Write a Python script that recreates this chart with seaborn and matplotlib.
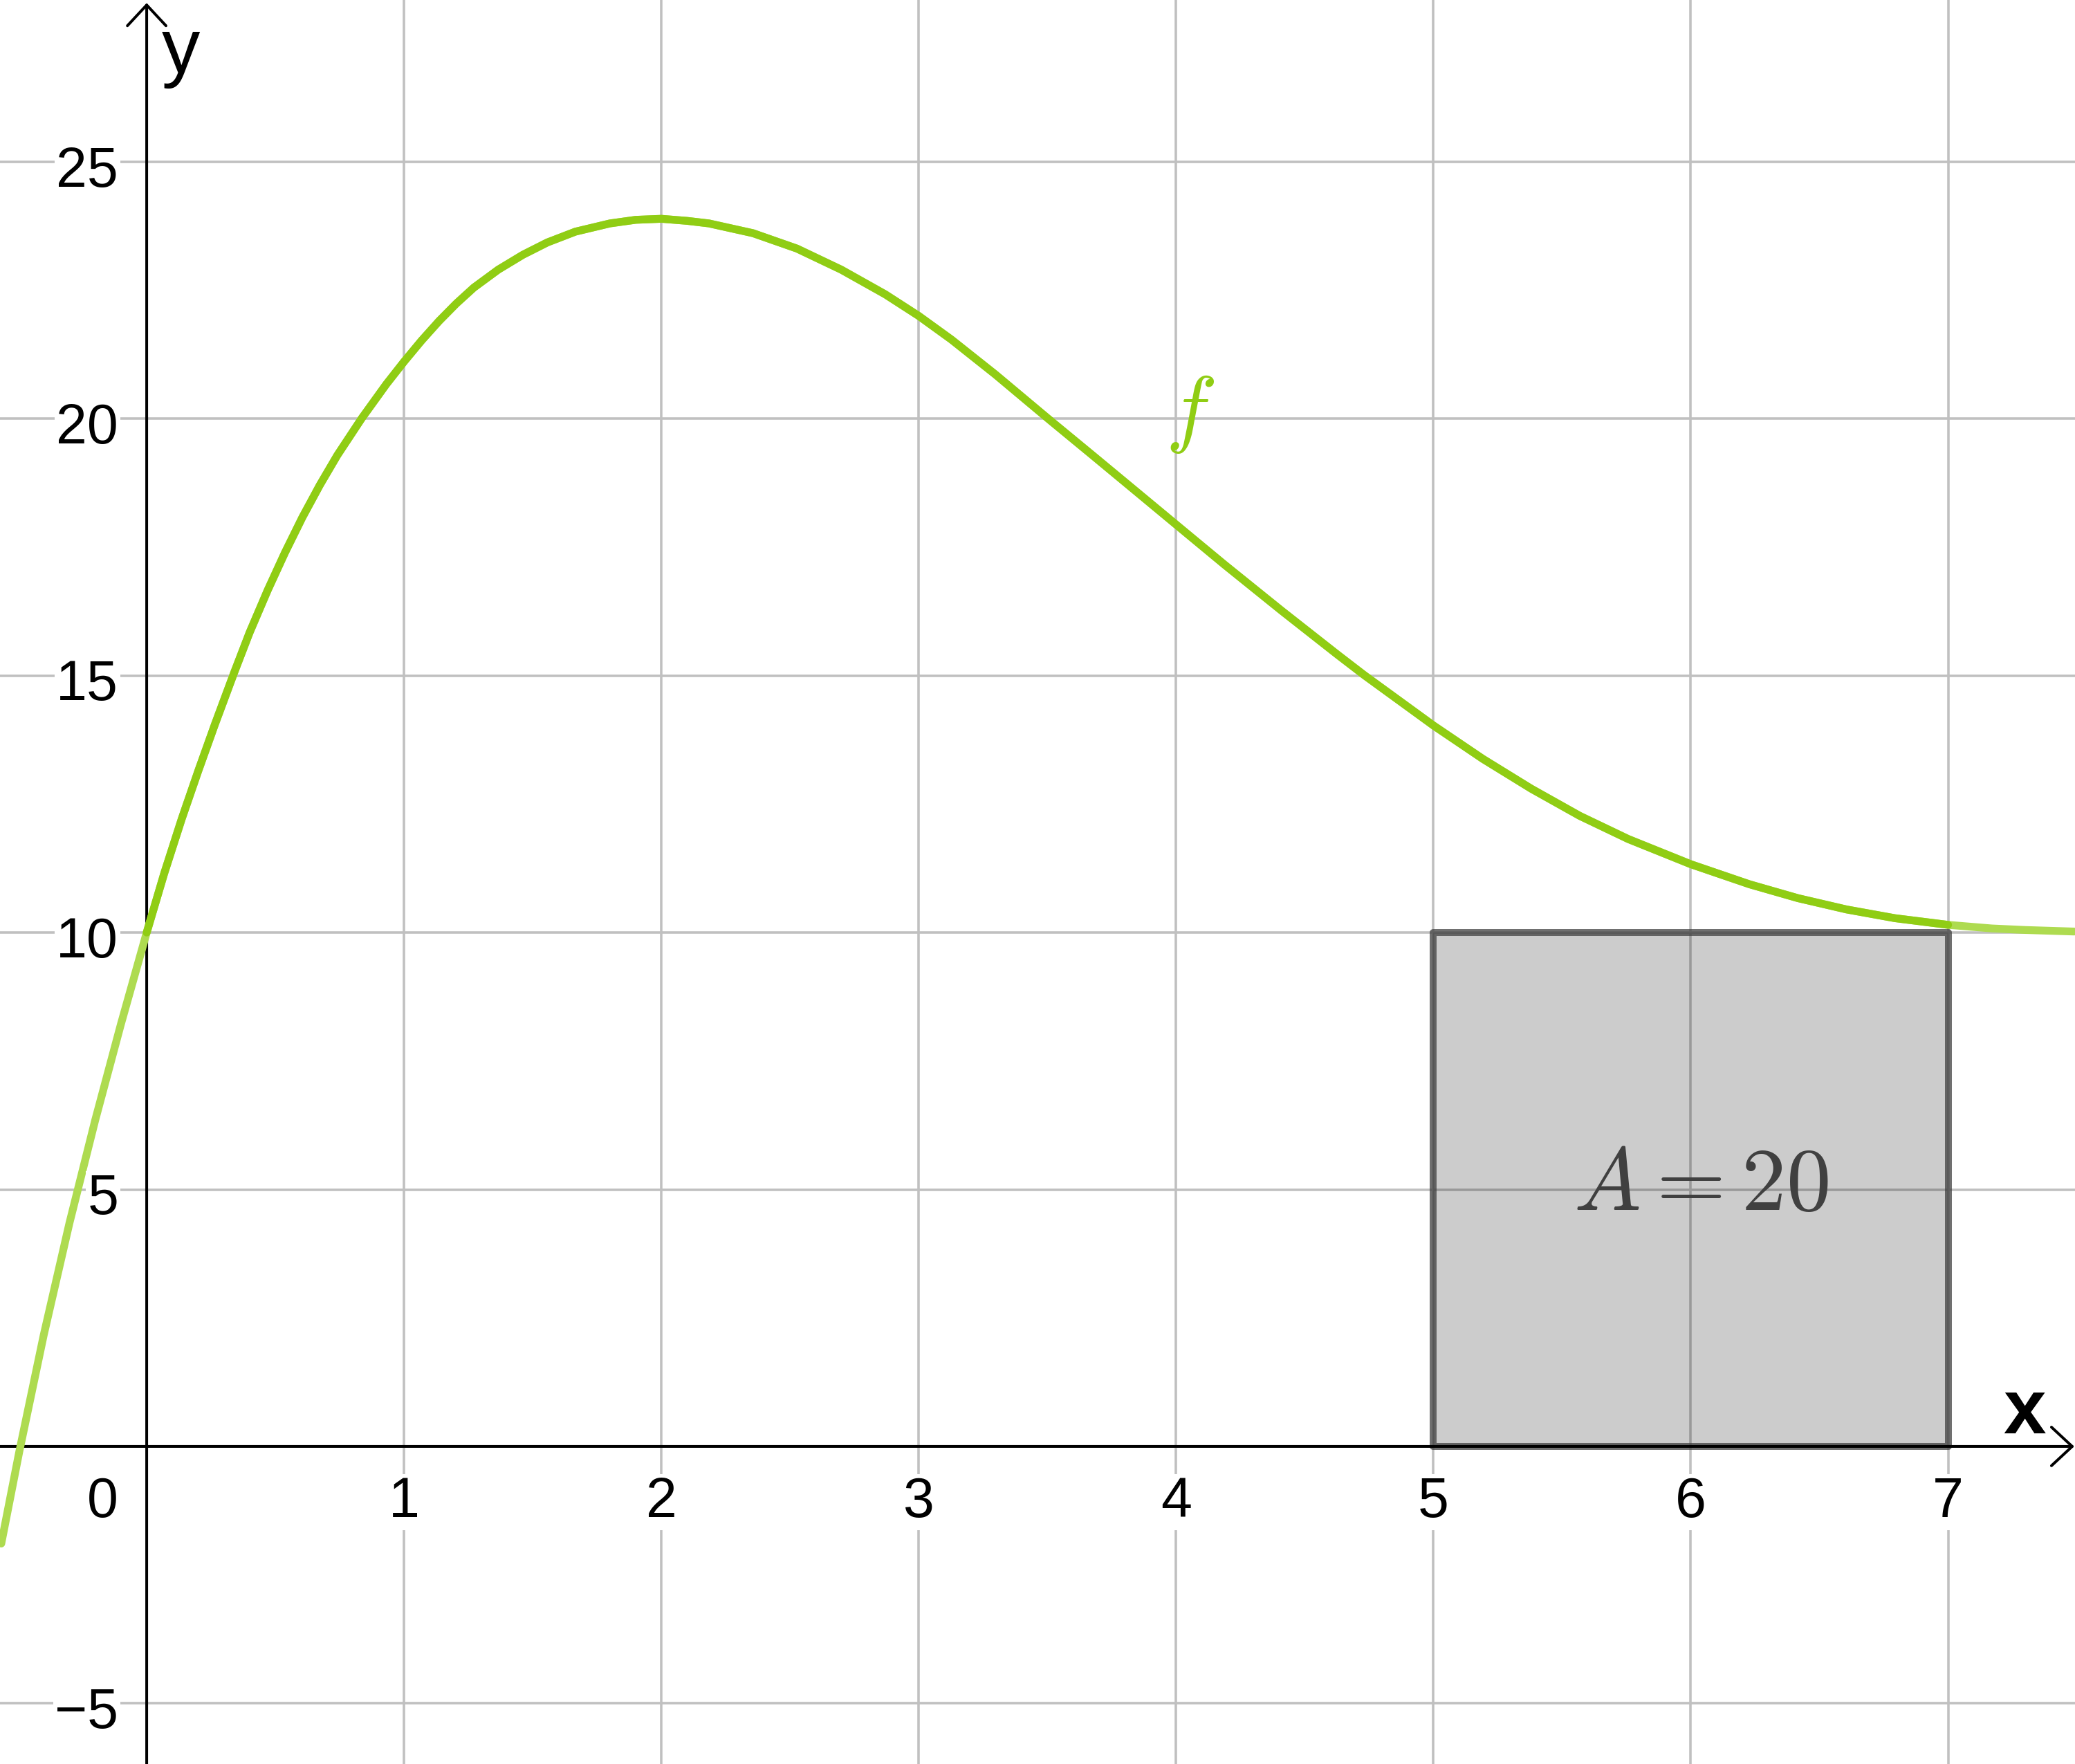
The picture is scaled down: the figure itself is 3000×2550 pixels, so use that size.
import matplotlib
matplotlib.use("Agg")
import matplotlib.pyplot as plt
import seaborn as sns
import numpy as np

# curve f, points
x_vals = [-0.565, -0.495, -0.4, -0.3, -0.2, -0.1, 0, 0.068, 0.136, 0.2, 0.265,
          0.34, 0.4, 0.47, 0.537, 0.605, 0.673, 0.741, 0.836, 0.931, 1.0, 1.068,
          1.136, 1.203, 1.271, 1.366, 1.462, 1.557, 1.666, 1.8, 1.9, 2.0, 2.1,
          2.185, 2.356, 2.527, 2.699, 2.87, 3.0, 3.127, 3.298, 3.503, 3.675,
          3.846, 4.0, 4.188, 4.411, 4.627, 4.731, 5.0, 5.192, 5.38, 5.569, 5.757,
          6.0, 6.228, 6.416, 6.605, 6.793, 7.0, 7.17, 7.3, 7.49]
y_vals = [-1.89, -0.1, 2.17, 4.35, 6.35, 8.22, 10.0, 11.15, 12.21, 13.14, 14.05,
          15.06, 15.84, 16.66, 17.39, 18.08, 18.71, 19.29, 20.01, 20.67, 21.11,
          21.52, 21.9, 22.24, 22.55, 22.9, 23.19, 23.43, 23.64, 23.8, 23.87,
          23.89, 23.85, 23.8, 23.61, 23.31, 22.9, 22.42, 22.0, 21.54, 20.86,
          20.0, 19.29, 18.58, 17.94, 17.16, 16.26, 15.41, 15.01, 14.03, 13.38,
          12.8, 12.27, 11.82, 11.33, 10.94, 10.67, 10.45, 10.28, 10.15, 10.08,
          10.05, 10.02]

# highlighted interval of f and the rectangle under it
x_from, x_to = 0, 7
rect_left, rect_width, rect_height = 5, 2, 10
area_label = "$A = 20$"

x_ticks = [1, 2, 3, 4, 5, 6, 7]
y_ticks = [-5, 5, 10, 15, 20, 25]
y_tick_labels = ["\u22125", "5", "10", "15", "20", "25"]

green = "#90cd14"
green_light = "#aedb50"

sns.set_theme(style="white")
plt.rcParams["font.family"] = ["Liberation Sans", "DejaVu Sans"]
plt.rcParams["mathtext.fontset"] = "cm"

fig = plt.figure(figsize=(10, 8.503), dpi=300)
ax = fig.add_axes([0, 0, 1, 1])
ax.set_xlim(-0.570, 7.493)
ax.set_ylim(-6.18, 28.16)

# grid
ax.set_xticks(x_ticks)
ax.set_yticks(y_ticks)
ax.grid(True, color="#c0c0c0", lw=0.86, zorder=0)
ax.set_axisbelow(True)
ax.tick_params(length=0, labelbottom=False, labelleft=False)
for s in ax.spines.values():
    s.set_visible(False)

# rectangle
ax.bar(rect_left, rect_height, width=rect_width, align="edge",
       facecolor=(0, 0, 0, 0.2), edgecolor=(0.25, 0.25, 0.25, 0.75),
       linewidth=2.4, joinstyle="round", zorder=2)

# axes with arrow heads
arrow = dict(arrowstyle="->,head_length=7.2,head_width=6.7", mutation_scale=1,
             color="black", lw=0.96, shrinkA=0, shrinkB=0)
ax.annotate("", xy=(7.49, 0), xytext=(-0.570, 0), arrowprops=arrow, zorder=3)
ax.annotate("", xy=(0, 28.09), xytext=(0, -6.18), arrowprops=arrow, zorder=3)

# the function: light over the whole range, strong on [0, 7]
sns.lineplot(x=x_vals, y=y_vals, ax=ax, color=green_light, lw=2.7,
             solid_capstyle="round", solid_joinstyle="round", zorder=4)
x_arr = np.array(x_vals)
y_arr = np.array(y_vals)
part = (x_arr >= x_from) & (x_arr <= x_to)
sns.lineplot(x=x_arr[part], y=y_arr[part], ax=ax, color=green, lw=2.7,
             solid_capstyle="round", solid_joinstyle="round", zorder=5)

# tick labels
box = dict(facecolor="white", edgecolor="none", pad=0.5)
for v in x_ticks:
    ax.text(v, -1.364, str(v), ha="center", va="baseline", fontsize=19.4,
            color="black", bbox=box, zorder=6)
ax.text(-0.110, -1.364, "0", ha="right", va="baseline", fontsize=19.4,
        color="black", bbox=box, zorder=6)
for v, lab in zip(y_ticks, y_tick_labels):
    ax.text(-0.110, v - 0.47, lab, ha="right", va="baseline", fontsize=19.4,
            color="black", bbox=box, zorder=6)

# axis names
ax.text(0.059, 26.75, "y", ha="left", va="baseline", fontsize=26.6, color="black")
ax.text(7.297, 0.265, "x", ha="center", va="baseline", fontsize=26.6,
        fontweight="bold", color="black")

# labels inside the plot
ax.text(4.053, 20.09, "$f$", ha="center", va="center", fontsize=30, color=green)
ax.text(6.04, 4.61, area_label, ha="center", va="baseline", fontsize=31,
        color="#404040", zorder=6)

fig.savefig("out.png", dpi=300)
